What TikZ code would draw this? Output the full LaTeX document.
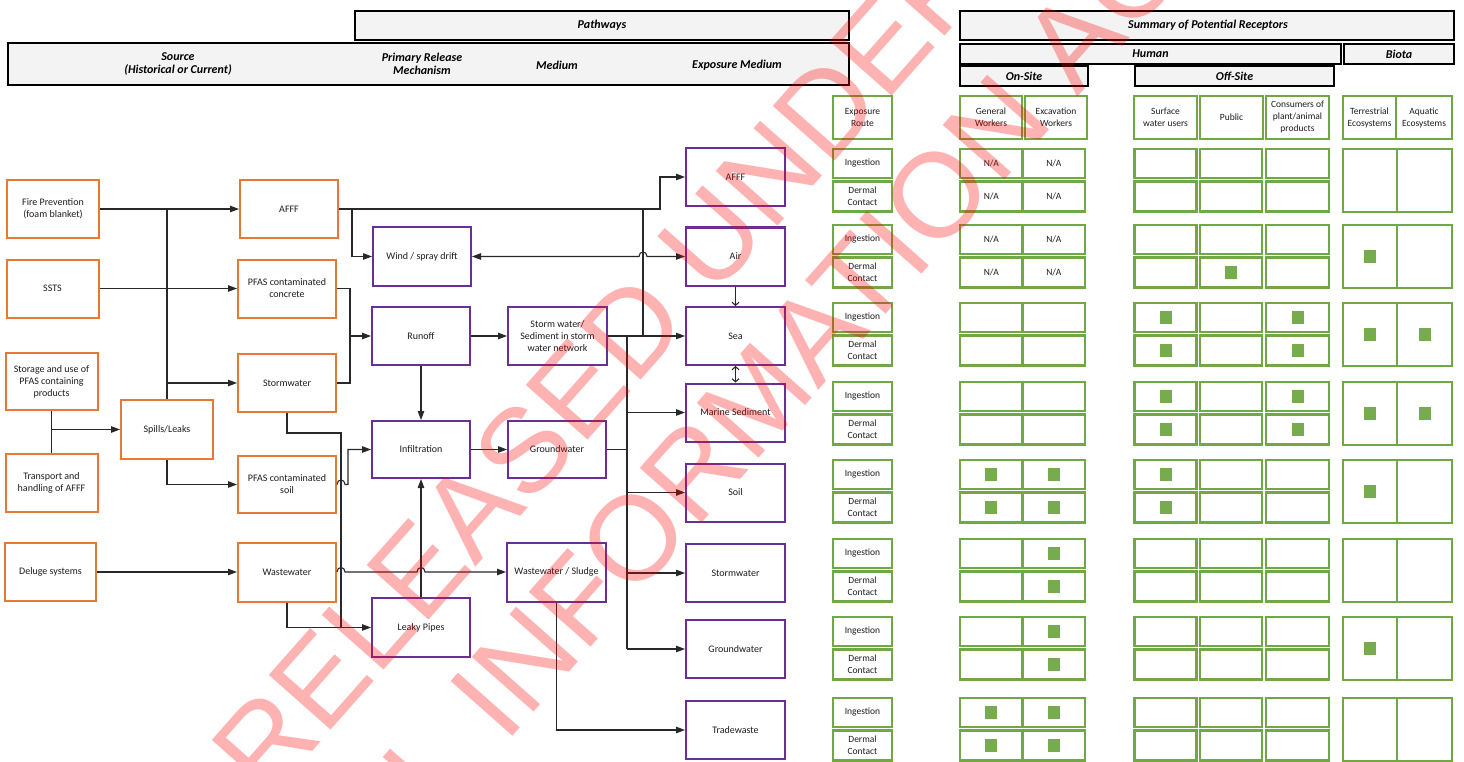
\documentclass[tikz,border=0pt]{standalone}
\usepackage{fontspec}
\setmainfont{Carlito}
\newfontfamily\wmfont{Liberation Sans}
\usetikzlibrary{arrows.meta}
\definecolor{orng}{RGB}{230,122,52}
\definecolor{purp}{RGB}{104,48,150}
\definecolor{grn}{RGB}{112,168,70}
\definecolor{sqg}{RGB}{118,172,78}
\definecolor{lnkc}{RGB}{40,40,40}
\definecolor{hdrfill}{RGB}{243,243,243}
\definecolor{txtc}{RGB}{30,30,30}
\tikzset{
  box/.style={rectangle, inner sep=1pt, align=center, text=txtc, font=\fontsize{10}{12}\selectfont},
  obox/.style={box, draw=orng, line width=2pt, minimum width=98pt, minimum height=58pt},
  sbox/.style={obox, minimum width=92pt},
  pbox/.style={box, draw=purp, line width=2pt, minimum width=98pt, minimum height=58pt},
  gbox/.style={box, draw=grn, line width=2.2pt, font=\fontsize{9.5}{12}\selectfont},
  hbox/.style={rectangle, draw=black, line width=1.4pt, fill=hdrfill},
  htext/.style={align=center, font=\fontsize{12}{13}\selectfont\bfseries\itshape, inner sep=0pt},
  lnk/.style={draw=lnkc, line width=1.1pt},
  arr/.style={lnk, -{Triangle[length=9pt,width=6.5pt]}},
  barr/.style={lnk, {Triangle[length=9pt,width=6.5pt]}-{Triangle[length=9pt,width=6.5pt]}},
  sarr/.style={lnk, -{Straight Barb[length=3pt,width=7pt]}},
  sbarr/.style={lnk, {Straight Barb[length=3pt,width=7pt]}-{Straight Barb[length=3pt,width=7pt]}},
  sq/.style={rectangle, fill=sqg, minimum width=12pt, minimum height=13pt, inner sep=0pt},
  wm/.style={font=\wmfont\fontsize{120}{130}\selectfont, text=red, inner sep=0pt}
}
\begin{document}
\begin{tikzpicture}[x=1pt, y=-1pt]
\useasboundingbox (0,0) rectangle (1464,762);
\fill[white] (0,0) rectangle (1464,762);

% ---------- headers ----------
\node[hbox, minimum width=494pt, minimum height=29pt] (pathways) at (602,25.5) {};
\node[htext] (pathwaysT) at (602,25.5) {Pathways};
\node[hbox, minimum width=841pt, minimum height=42pt] (hdr) at (428.5,64) {};
\node[htext] (srcT) at (178,64) {Source\\(Historical or Current)};
\node[htext] (prmT) at (422,64) {Primary Release\\Mechanism};
\node[htext] (medT) at (557,65) {Medium};
\node[htext] (expT) at (737,65) {Exposure Medium};

\node[hbox, minimum width=494pt, minimum height=29pt] (summary) at (1207,25.5) {};
\node[htext] (summaryT) at (1208,25.5) {Summary of Potential Receptors};
\node[hbox, minimum width=381pt, minimum height=20pt] (human) at (1150.5,54) {};
\node[htext] (humanT) at (1150.5,54) {Human};
\node[hbox, minimum width=110pt, minimum height=20pt] (biota) at (1399,54) {};
\node[htext] (biotaT) at (1399,54) {Biota};
\node[hbox, minimum width=128pt, minimum height=20pt] (onsite) at (1024,76) {};
\node[htext] (onsiteT) at (1024,76) {On-Site};
\node[hbox, minimum width=199pt, minimum height=20pt] (offsite) at (1234.5,76) {};
\node[htext] (offsiteT) at (1234.5,76) {Off-Site};

% ---------- receptor column headers ----------
\node[gbox, minimum width=59pt, minimum height=43pt] (exproute) at (862.5,117.5) {Exposure\\Route};
\node[gbox, minimum width=62pt, minimum height=43pt] (hgen) at (991,117.5) {General\\Workers};
\node[gbox, minimum width=62pt, minimum height=43pt] (hexc) at (1056,117.5) {Excavation\\Workers};
\node[gbox, minimum width=63pt, minimum height=43pt] (hsurf) at (1165.5,117.5) {Surface\\water users};
\node[gbox, minimum width=63pt, minimum height=43pt] (hpub) at (1231.5,117.5) {Public};
\node[gbox, minimum width=63pt, minimum height=43pt] (hcons) at (1297.5,117.5) {Consumers of\\plant/animal\\products};
\node[gbox, minimum width=53pt, minimum height=43pt] (hterr) at (1369.5,117.5) {Terrestrial\\Ecosystems};
\node[gbox, minimum width=56pt, minimum height=43pt] (haqua) at (1424,117.5) {Aquatic\\Ecosystems};

% ---------- receptor grid ----------
\foreach \T [count=\r] in {149,225,303,382,460,539,617,698} {
  \node[gbox, minimum width=59pt, minimum height=29pt] (ing-\r) at (862.5,\T+14.5) {Ingestion};
  \node[gbox, minimum width=59pt, minimum height=30pt] (der-\r) at (862.5,\T+47.5) {Dermal\\Contact};
  \foreach \c/\x in {gen/991.25, exc/1053.75} {
    \node[gbox, minimum width=62.5pt, minimum height=29pt] (\c-i-\r) at (\x,\T+14.5) {\ifnum\r<3 N/A\fi};
    \node[gbox, minimum width=62.5pt, minimum height=30pt] (\c-d-\r) at (\x,\T+47.5) {\ifnum\r<3 N/A\fi};
  }
  \foreach \c/\x/\w in {surf/1165.5/62, pub/1231/62, cons/1297.5/63} {
    \node[gbox, minimum width=\w pt, minimum height=29pt] (\c-i-\r) at (\x,\T+14.5) {};
    \node[gbox, minimum width=\w pt, minimum height=30pt] (\c-d-\r) at (\x,\T+47.5) {};
  }
  \node[gbox, minimum width=54pt, minimum height=63pt] (terr-\r) at (1370,\T+31.5) {};
  \node[gbox, minimum width=55pt, minimum height=63pt] (aqua-\r) at (1424.5,\T+31.5) {};
}
\foreach \n in {pub-d-2, terr-2,
  surf-i-3, surf-d-3, cons-i-3, cons-d-3, terr-3, aqua-3,
  surf-i-4, surf-d-4, cons-i-4, cons-d-4, terr-4, aqua-4,
  gen-i-5, gen-d-5, exc-i-5, exc-d-5, surf-i-5, surf-d-5, terr-5,
  exc-i-6, exc-d-6,
  exc-i-7, exc-d-7, terr-7,
  gen-i-8, gen-d-8, exc-i-8, exc-d-8}
  \node[sq] (sq-\n) at (\n.center) {};

% ---------- sources ----------
\node[sbox] (fire) at (53,209) {Fire Prevention\\(foam blanket)};
\node[sbox] (ssts) at (52.5,288.5) {SSTS};
\node[sbox, minimum height=57pt] (storage) at (51.5,381.5) {Storage and use of\\PFAS containing\\products};
\node[sbox] (transport) at (51.5,483) {Transport and\\handling of AFFF};
\node[sbox, minimum width=91pt] (deluge) at (50.5,572) {Deluge systems};
\node[sbox, minimum height=59pt] (spills) at (167,429.5) {Spills/Leaks};

% ---------- primary release ----------
\node[obox] (afffo) at (289,209) {AFFF};
\node[obox] (concrete) at (287,288.5) {PFAS contaminated\\concrete};
\node[obox] (stormo) at (287,383) {Stormwater};
\node[obox, minimum height=57pt] (soil) at (287,484.5) {PFAS contaminated\\soil};
\node[obox, minimum height=59pt] (wastew) at (287,572) {Wastewater};

% ---------- medium ----------
\node[pbox, minimum height=59pt] (wind) at (422,256.5) {Wind / spray drift};
\node[pbox] (runoff) at (421,336) {Runoff};
\node[pbox, minimum width=99pt] (stormnet) at (557.5,336) {Storm water/\\Sediment in storm\\water network};
\node[pbox, minimum height=57pt] (infil) at (421,449.5) {Infiltration};
\node[pbox, minimum height=57pt] (gwmid) at (557,449.5) {Groundwater};
\node[pbox, minimum width=99pt, minimum height=59pt] (sludge) at (556.5,572) {Wastewater / Sludge};
\node[pbox, minimum height=59pt] (leaky) at (421,627.5) {Leaky Pipes};

% ---------- exposure medium ----------
\node[pbox, minimum width=99pt] (eAFFF) at (735.5,177) {AFFF};
\node[pbox, minimum width=99pt] (eAir) at (735.5,256.5) {Air};
\node[pbox, minimum width=99pt] (eSea) at (735.5,336) {Sea};
\node[pbox, minimum width=99pt] (eMar) at (735.5,412.5) {Marine Sediment};
\node[pbox, minimum width=99pt] (eSoil) at (735.5,492.5) {Soil};
\node[pbox, minimum width=99pt] (eStorm) at (735.5,573) {Stormwater};
\node[pbox, minimum width=99pt] (eGW) at (735.5,649) {Groundwater};
\node[pbox, minimum width=99pt] (eTrade) at (735.5,730) {Tradewaste};

% ---------- junction coordinates ----------
\coordinate (jSp) at (167,209);
\coordinate (jW) at (352,209);
\coordinate (jS) at (643,209);
\coordinate (jA) at (660,209);
\coordinate (jC1) at (350,288.5);
\coordinate (jC2) at (350,383);
\coordinate (jC3) at (350,336);
\coordinate (jM1) at (287,433);
\coordinate (jM2) at (341,433);
\coordinate (jM3) at (341,627.5);
\coordinate (jB1) at (627,336);
\coordinate (jB2) at (627,649);

% ---------- connectors ----------
\draw[arr] (fire.east) -- (afffo.west);
\draw[arr] (ssts.east) -- (concrete.west);
\draw[lnk] (spills.north) -- (jSp);
\draw[arr] (spills.north |- stormo.west) -- (stormo.west);
\draw[lnk] (storage.south) -- (transport.north);
\draw[arr] (storage.south |- spills.west) -- (spills.west);
\draw[arr] (spills.south) |- (soil.west);
\draw[arr] (deluge.east) -- (wastew.west);

\draw[arr] (afffo.east) -- (jA) |- (eAFFF.west);
\draw[arr] (jW) |- (wind.west);
\draw[lnk] (jS) -- (jS |- eSea.west);
\draw[barr] (wind.east) -- (639,256.5) .. controls (639,250.5) and (647,250.5) .. (647,256.5) -- (eAir.west);

\draw[lnk] (concrete.east) -- (jC1) -- (jC2) -- (stormo.east);
\draw[arr] (jC3) -- (runoff.west);

\draw[arr] (runoff.east) -- (stormnet.west);
\draw[arr] (runoff.south) -- (infil.north);
\draw[arr] (infil.east) -- (gwmid.west);
\draw[arr] (leaky.north) -- (infil.south);

\draw[lnk] (stormo.south) -- (jM1) -- (jM2) -- (jM3);
\draw[arr] (wastew.south) |- (leaky.west);
\draw[arr] (soil.east) -- (337,484.5) .. controls (337,478.5) and (345,478.5) .. (345,484.5) -- (348,484.5) -- (348,449.5) -- (infil.west);
\draw[arr] (wastew.east) -- (337,572) .. controls (337,566) and (345,566) .. (345,572) -- (417,572) .. controls (417,566) and (425,566) .. (425,572) -- (sludge.west);

\draw[arr] (stormnet.east) -- (eSea.west);
\draw[lnk] (jB1) -- (jB2);
\draw[lnk] (gwmid.east) -- (gwmid.east -| jB1);
\draw[arr] (jB1 |- eMar.west) -- (eMar.west);
\draw[arr] (jB1 |- eSoil.west) -- (eSoil.west);
\draw[arr] (jB1 |- eStorm.west) -- (eStorm.west);
\draw[arr] (jB2) -- (eGW.west);
\draw[arr] (sludge.south) |- (eTrade.west);

\draw[sarr] (eAir.south) -- (eSea.north);
\draw[sbarr] (eSea.south) -- (eMar.north);

% ---------- watermark ----------
\begin{scope}[opacity=0.3]
\clip (0,0) rectangle (1464,762);
\node[wm, anchor=base, rotate=48.5] (wm1) at (722.5,288) {RELEASED UNDER THE};
\node[wm, anchor=base, rotate=48.5] (wm2) at (681,546) {OFFICIAL INFORMATION ACT};
\end{scope}
\end{tikzpicture}
\end{document}
